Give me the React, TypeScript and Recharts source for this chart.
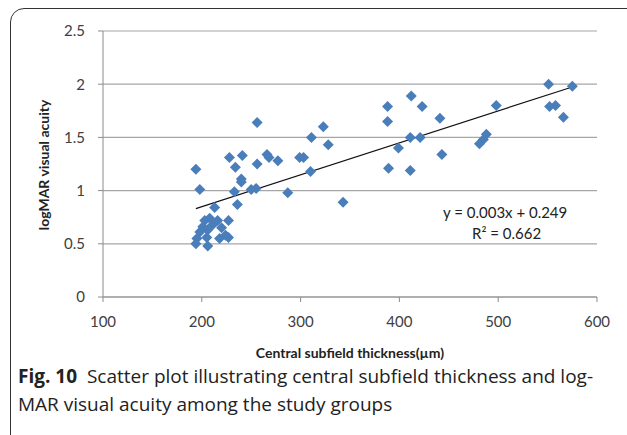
import { ScatterChart, Scatter, XAxis, YAxis, CartesianGrid, ReferenceLine } from 'recharts';

// central subfield thickness (µm) and logMAR visual acuity per eye
const thickness = [
  213, 236, 203, 208, 216, 227, 201, 211, 198, 206, 220, 195, 205, 224, 227, 218, 194, 206,
  194, 198, 228, 241, 234, 240, 240, 233, 250, 255, 256, 256, 266, 268, 277, 299, 303, 311,
  323, 328, 310, 287, 343,
  388, 388, 412, 423, 441, 399, 411, 421, 389, 411, 443, 481, 485, 488, 498, 551, 575, 552,
  558, 566,
];
const logmar = [
  0.84, 0.87, 0.72, 0.74, 0.72, 0.72, 0.66, 0.68, 0.61, 0.63, 0.65, 0.55, 0.56, 0.58, 0.56, 0.55, 0.5, 0.48,
  1.2, 1.01, 1.31, 1.33, 1.22, 1.11, 1.08, 0.99, 1.01, 1.02, 1.25, 1.64, 1.34, 1.31, 1.28, 1.31, 1.31, 1.5,
  1.6, 1.43, 1.18, 0.98, 0.89,
  1.79, 1.65, 1.89, 1.79, 1.68, 1.4, 1.5, 1.5, 1.21, 1.19, 1.34, 1.44, 1.48, 1.53, 1.8, 2.0, 1.98, 1.79,
  1.8, 1.69,
];
const xTicks = [100, 200, 300, 400, 500, 600];
const yTicks = [0, 0.5, 1, 1.5, 2, 2.5];

// linear trendline from the figure
const slope = 0.003;
const intercept = 0.249;

const points = thickness.map((t, i) => ({ cst: t, va: logmar[i] }));
const xMin = Math.min(...thickness);
const xMax = Math.max(...thickness);

const tickStyle = { fill: '#404040', fontSize: 15, fontFamily: 'Lato' };

function Diamond(props: any) {
  const { cx, cy } = props;
  const r = 5.5;
  return (
    <polygon
      points={`${cx},${cy - r} ${cx + r},${cy} ${cx},${cy + r} ${cx - r},${cy}`}
      fill="#4a7ebb"
    />
  );
}

// rotated y axis title, centred on the plot height
function YTitle(props: any) {
  const vb = props.viewBox || {};
  const cx = 43;
  const cy = (vb.y ?? 31) + (vb.height ?? 266) / 2 + 1;
  return (
    <text
      x={cx}
      y={cy}
      transform={`rotate(-90 ${cx} ${cy})`}
      textAnchor="middle"
      dominantBaseline="central"
      fontFamily="Lato"
      fontWeight={700}
      fontSize={14}
      fill="#222"
    >
      logMAR visual acuity
    </text>
  );
}

export default function App() {
  return (
    <div style={{ position: 'absolute', left: 0, top: 0, width: 627, height: 435, overflow: 'hidden', background: '#fff' }}>
      <div
        style={{
          position: 'absolute',
          left: 10,
          top: 8,
          width: 660,
          height: 470,
          border: '1.5px solid #333',
          borderRadius: 14,
        }}
      />
      <div style={{ position: 'absolute', left: 0, top: 0 }}>
        <ScatterChart width={627} height={372} margin={{ top: 31, right: 30, left: 0, bottom: 0 }}>
          <CartesianGrid vertical={false} stroke="#a6a6a6" strokeWidth={1.2} />
          <XAxis
            type="number"
            dataKey="cst"
            domain={[100, 600]}
            ticks={xTicks}
            height={75}
            tick={tickStyle}
            tickSize={5}
            tickMargin={14}
            stroke="#8c8c8c"
            label={{
              value: 'Central subfield thickness(µm)',
              position: 'insideBottom',
              offset: 14,
              style: { fontFamily: 'Lato', fontWeight: 700, fontSize: 14, fill: '#222' },
            }}
          />
          <YAxis
            type="number"
            dataKey="va"
            domain={[0, 2.5]}
            ticks={yTicks}
            width={103}
            tick={tickStyle}
            tickSize={5}
            tickMargin={13}
            stroke="#8c8c8c"
            label={<YTitle />}
          />
          <ReferenceLine
            segment={[
              { x: xMin, y: slope * xMin + intercept },
              { x: xMax, y: slope * xMax + intercept },
            ]}
            stroke="#111"
            strokeWidth={1.2}
            ifOverflow="visible"
          />
          <Scatter data={points} shape={<Diamond />} isAnimationActive={false} />
        </ScatterChart>
      </div>
      <div style={{ position: 'absolute', left: 443, top: 203, fontFamily: 'Lato', fontSize: 15, color: '#222', whiteSpace: 'nowrap' }}>
        y = 0.003x + 0.249
      </div>
      <div style={{ position: 'absolute', left: 472, top: 224, fontFamily: 'Lato', fontSize: 15, color: '#222', whiteSpace: 'nowrap' }}>
        R² = 0.662
      </div>
      <div
        style={{
          position: 'absolute',
          left: 18,
          top: 362,
          width: 610,
          fontFamily: "'Open Sans'",
          fontSize: 19,
          lineHeight: '28px',
          color: '#222',
          whiteSpace: 'nowrap',
        }}
      >
        <span style={{ fontWeight: 700 }}>Fig. 10</span>&nbsp; Scatter plot illustrating central subfield thickness and log-
        <br />
        MAR visual acuity among the study groups
      </div>
    </div>
  );
}
